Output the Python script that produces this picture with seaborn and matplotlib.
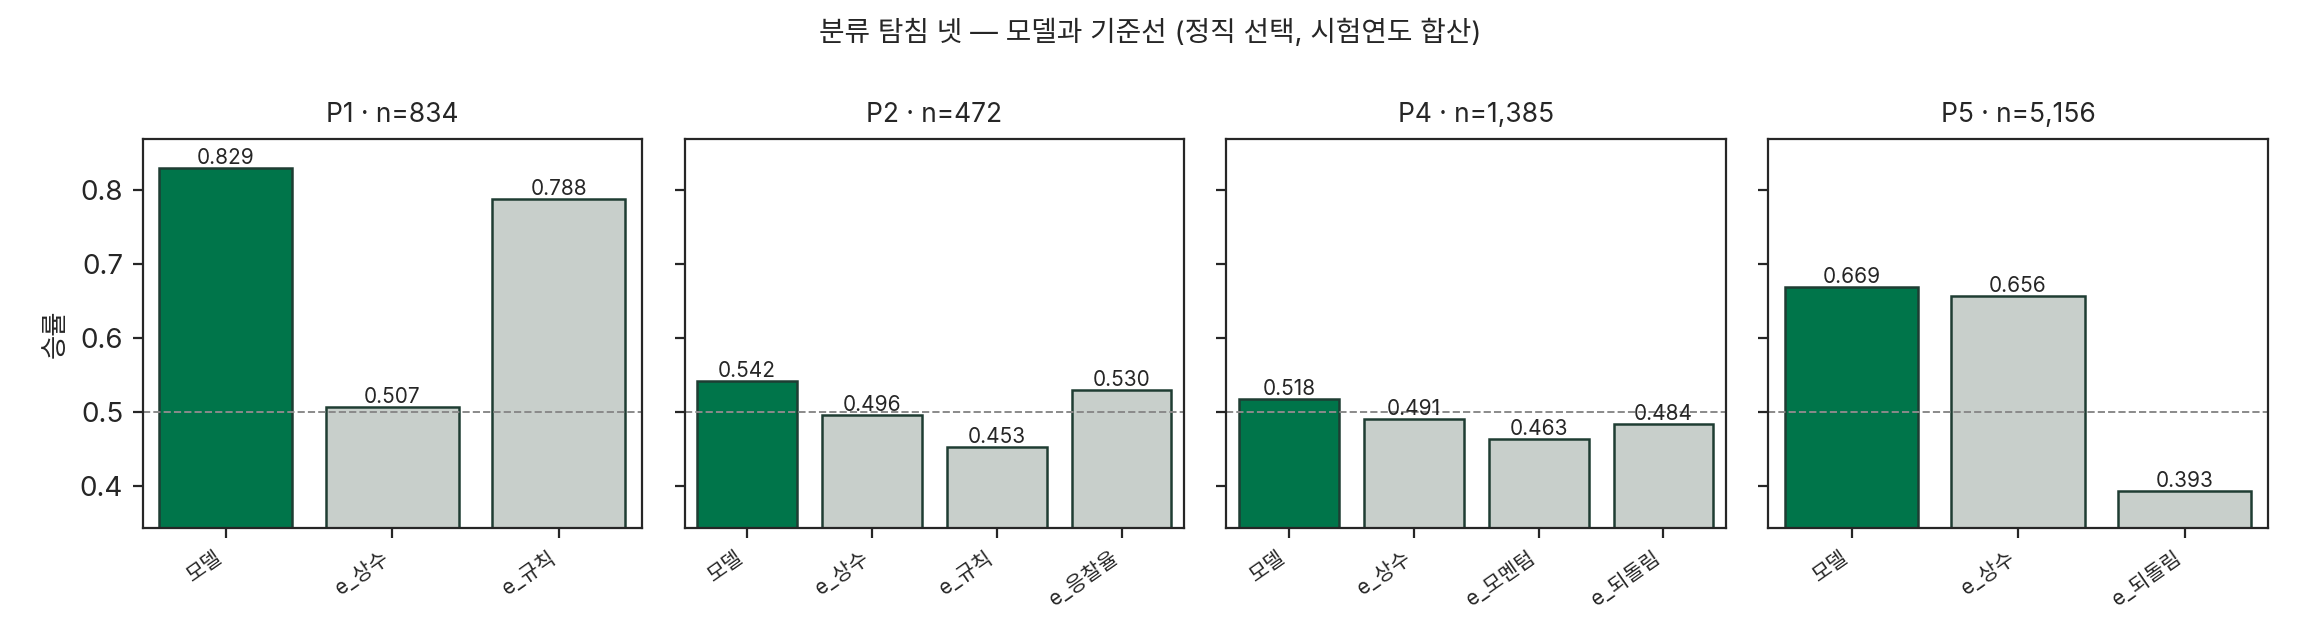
import matplotlib
matplotlib.use("Agg")
import matplotlib.pyplot as plt
import seaborn as sns
import pandas as pd

# 패널 정보
panel_names = ["P1", "P2", "P4", "P5"]
panel_n = [834, 472, 1385, 5156]

# 각 패널의 모델/기준선 이름과 승률
p1_names = ["모델", "e_상수", "e_규칙"]
p1_rates = [0.829, 0.507, 0.788]
p2_names = ["모델", "e_상수", "e_규칙", "e_응찰율"]
p2_rates = [0.542, 0.496, 0.453, 0.530]
p4_names = ["모델", "e_상수", "e_모멘텀", "e_되돌림"]
p4_rates = [0.518, 0.491, 0.463, 0.484]
p5_names = ["모델", "e_상수", "e_되돌림"]
p5_rates = [0.669, 0.656, 0.393]

all_names = [p1_names, p2_names, p4_names, p5_names]
all_rates = [p1_rates, p2_rates, p4_rates, p5_rates]

verde = "#00754A"
gris = "#C8CFCB"
borde = "#1F3D33"

sns.set_style("ticks")
plt.rcParams["font.family"] = ["Inter", "Noto Sans CJK KR", "DejaVu Sans"]
plt.rcParams["axes.unicode_minus"] = False

fig, axes = plt.subplots(1, 4, figsize=(11.5, 3.2), dpi=200, sharey=True)
fig.subplots_adjust(left=0.062, right=0.986, top=0.783, bottom=0.175, wspace=0.085)

for ax, nombre, n, nombres, tasas in zip(axes, panel_names, panel_n, all_names, all_rates):
    df = pd.DataFrame({"기준": nombres, "승률": tasas})
    paleta = {k: (verde if k == "모델" else gris) for k in nombres}
    sns.barplot(data=df, x="기준", y="승률", hue="기준", palette=paleta, legend=False,
                edgecolor=borde, linewidth=0.9, saturation=1, width=0.8, ax=ax)
    for cont in ax.containers:
        ax.bar_label(cont, fmt="%.3f", fontsize=7.5, padding=0)
    ax.axhline(0.5, color="#8a8a8a", ls="--", lw=0.7)
    ax.set_title(f"{nombre} · n={n:,}", fontsize=9.5)
    ax.set_xlabel("")
    ax.set_ylabel("")
    ax.tick_params(axis="x", labelsize=7.5)
    ax.tick_params(axis="y", labelsize=10)
    for lab in ax.get_xticklabels():
        lab.set_rotation(35)
        lab.set_ha("right")

todos = [v for t in all_rates for v in t]
axes[0].set_ylim(min(todos) - 0.05, max(todos) + 0.04)
axes[0].set_ylabel("승률", fontsize=9.5)

fig.suptitle("분류 탐침 넷 — 모델과 기준선 (정직 선택, 시험연도 합산)", fontsize=10, y=0.97)

fig.savefig("out.png", dpi=200)
